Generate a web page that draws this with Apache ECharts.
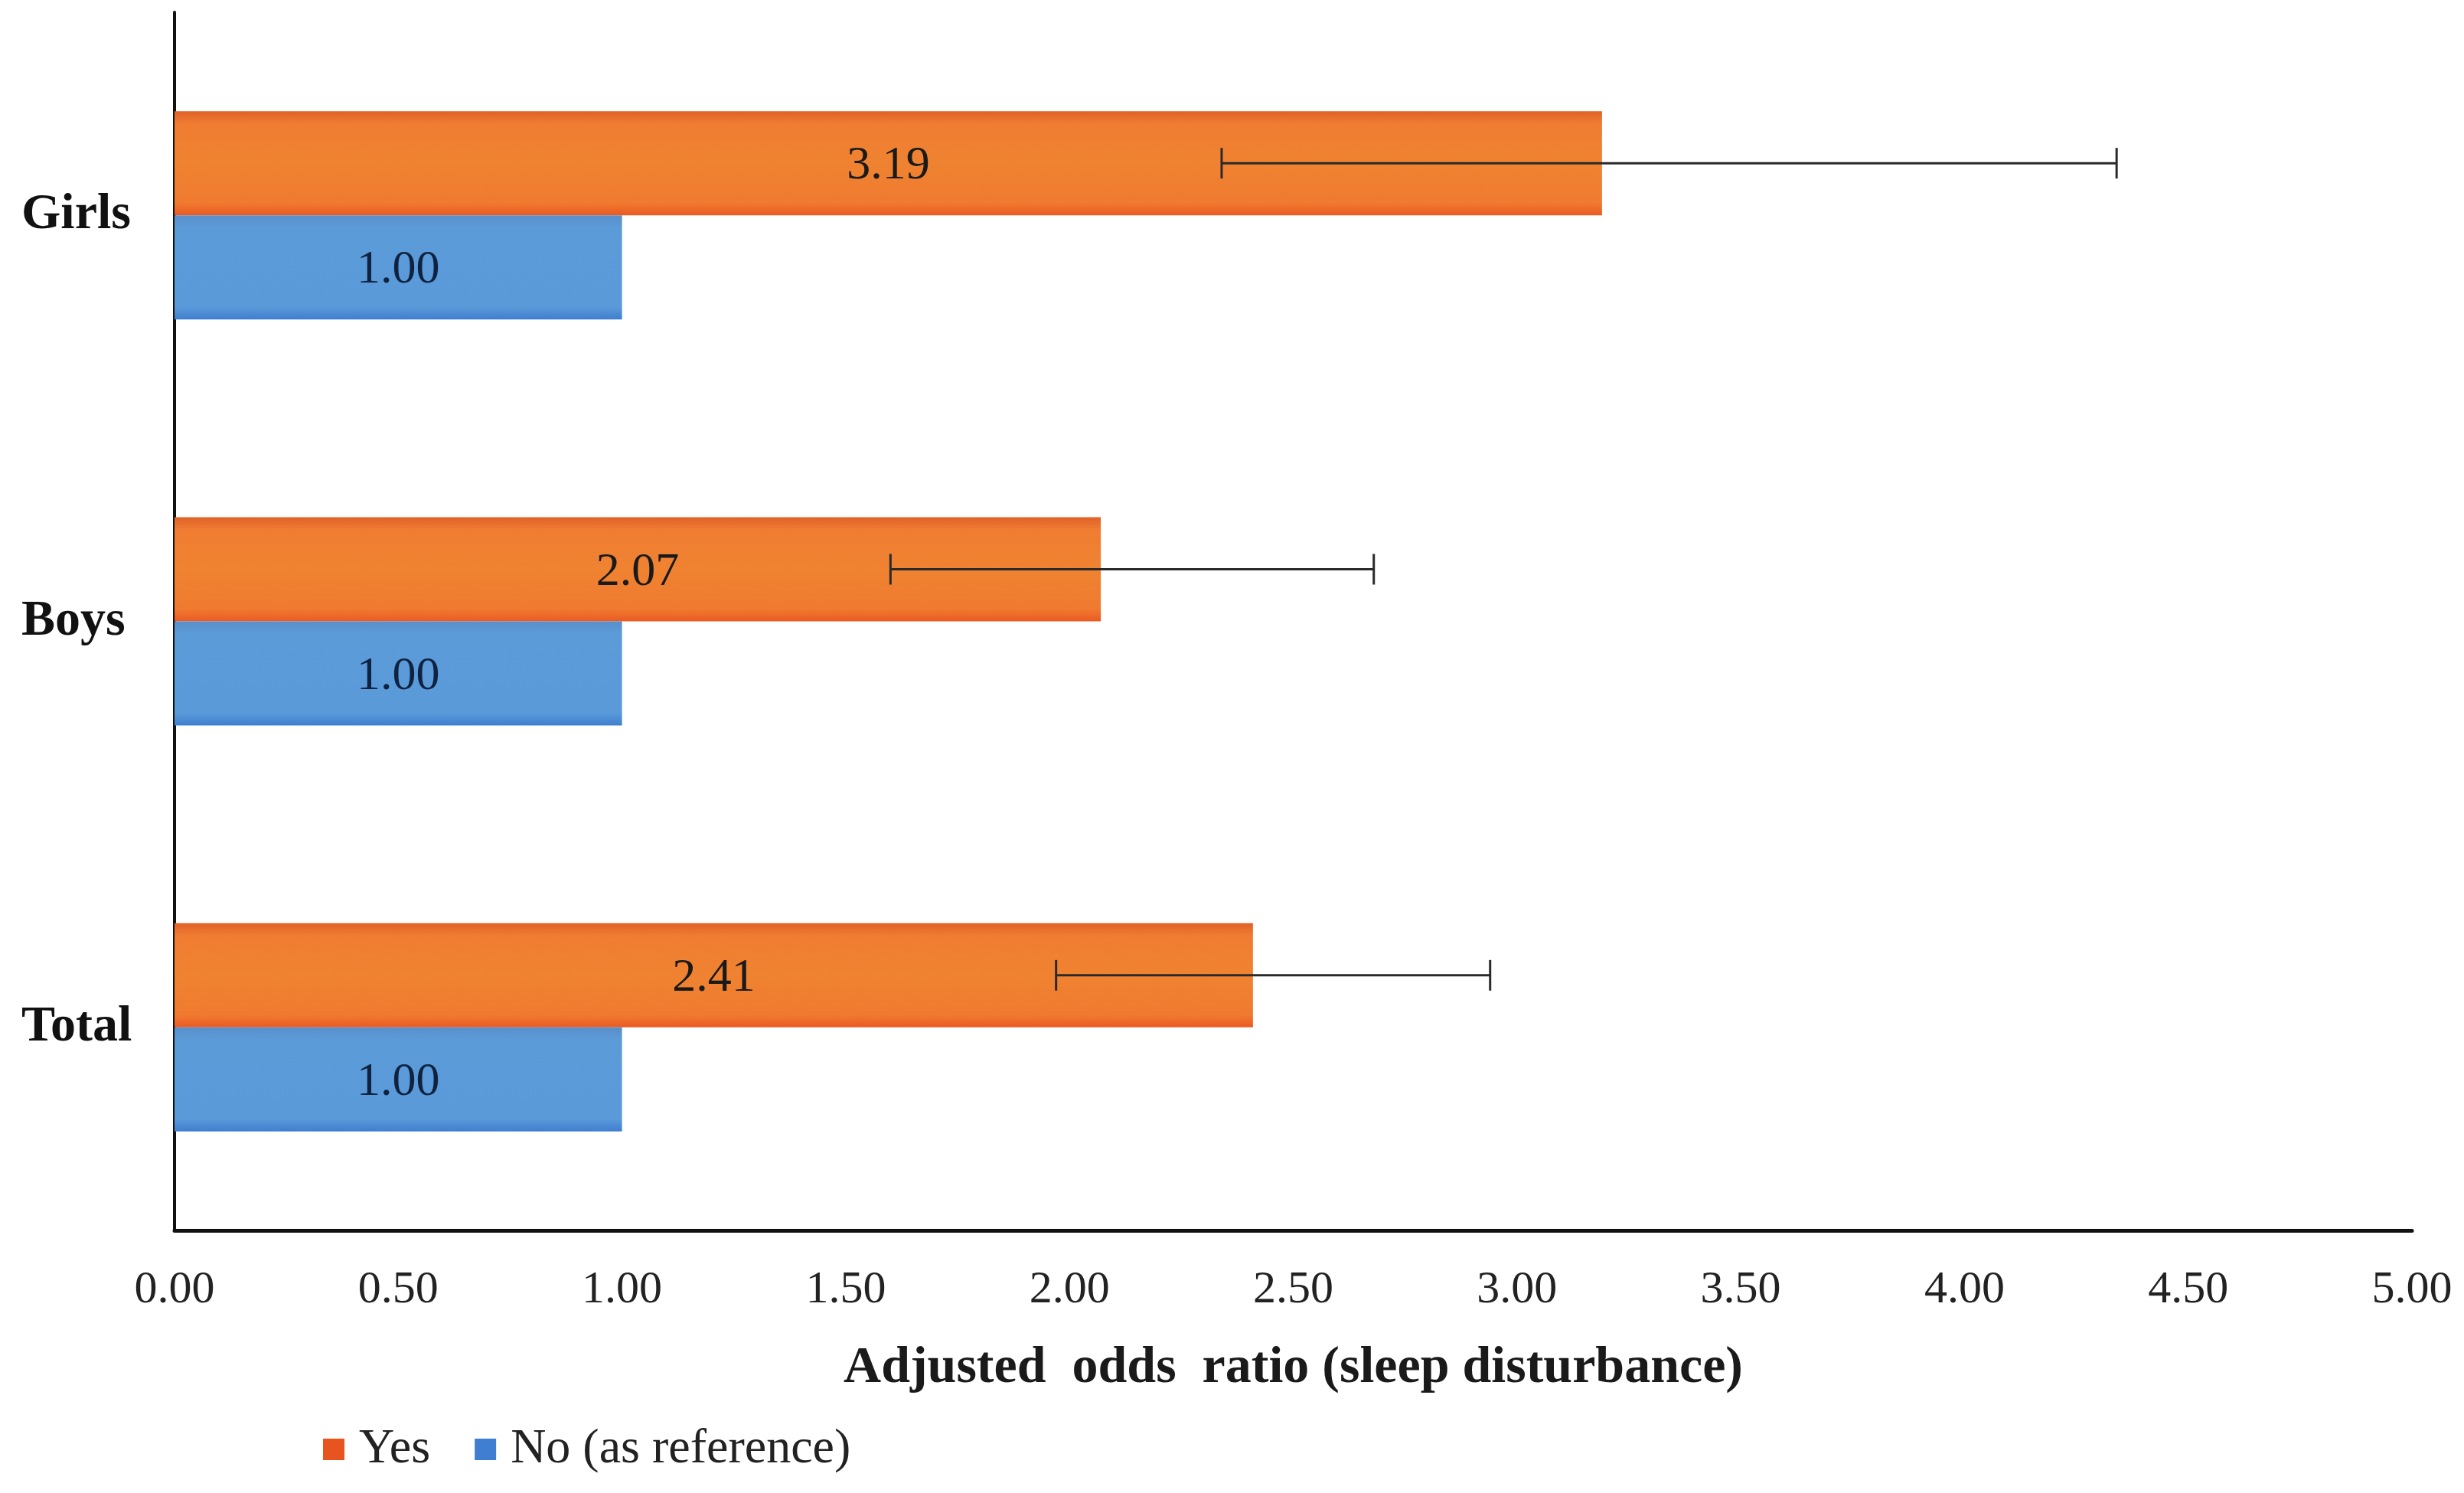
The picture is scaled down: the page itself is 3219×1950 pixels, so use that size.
<!DOCTYPE html>
<html>
<head>
<meta charset="utf-8">
<script src="https://cdn.jsdelivr.net/npm/echarts@6/dist/echarts.min.js"></script>
<style>
html,body{margin:0;padding:0;background:#fff;}
#chart{width:3219px;height:1950px;}
</style>
</head>
<body>
<div id="chart"></div>
<script>
const categories = ['Girls', 'Boys', 'Total'];
const yesValues = [3.19, 2.07, 2.41];
const noValues = [1.00, 1.00, 1.00];
const ciLow = [2.34, 1.60, 1.97];
const ciHigh = [4.34, 2.68, 2.94];
const seriesNames = ['Yes', 'No (as reference)'];
const axisTitle = 'Adjusted  odds  ratio (sleep disturbance)';

const FONT = '"Liberation Serif", "Times New Roman", serif';
const BAR_W = 136;

const chart = echarts.init(document.getElementById('chart'));

const orangeGrad = new echarts.graphic.LinearGradient(0, 0, 0, 1, [
  {offset: 0, color: '#DF6128'},
  {offset: 0.12, color: '#F07C32'},
  {offset: 0.5, color: '#EF8331'},
  {offset: 0.88, color: '#F07A30'},
  {offset: 1, color: '#EA5A22'}
]);
const blueGrad = new echarts.graphic.LinearGradient(0, 0, 0, 1, [
  {offset: 0, color: '#5A8FCB'},
  {offset: 0.12, color: '#5B9BD8'},
  {offset: 0.88, color: '#5A9AD9'},
  {offset: 1, color: '#3F7ED0'}
]);

const errData = categories.map((c, i) => [ciLow[i], ciHigh[i], i]);

chart.setOption({
  animation: false,
  backgroundColor: '#ffffff',
  grid: {left: 228, right: 68, top: 16, bottom: 343, containLabel: false},
  legend: {
    data: [
      {name: seriesNames[0], itemStyle: {color: '#E8541F'}},
      {name: seriesNames[1], itemStyle: {color: '#3F7ED0'}}
    ],
    left: 417, top: 1856,
    icon: 'rect', itemWidth: 28, itemHeight: 28, itemGap: 58,
    textStyle: {fontFamily: FONT, fontSize: 64, color: '#222', padding: [0, 0, 0, 14]}
  },
  xAxis: {
    type: 'value', min: 0, max: 5, interval: 0.5,
    name: axisTitle, nameLocation: 'middle', nameGap: 146,
    nameTextStyle: {fontFamily: FONT, fontSize: 68, fontWeight: 'bold', color: '#1a1a1a'},
    axisLine: {show: true, lineStyle: {color: '#111', width: 5}},
    axisTick: {show: false},
    splitLine: {show: false},
    axisLabel: {fontFamily: FONT, fontSize: 60, color: '#222', margin: 48,
      formatter: v => v.toFixed(2)}
  },
  yAxis: {
    type: 'category', data: categories, inverse: true,
    axisLine: {show: true, lineStyle: {color: '#111', width: 4}},
    axisTick: {show: false},
    axisLabel: {fontFamily: FONT, fontSize: 66, fontWeight: 'bold', color: '#111',
      align: 'left', margin: 200}
  },
  series: [
    {
      name: seriesNames[0], type: 'bar', data: yesValues, barWidth: BAR_W, barGap: '0%',
      itemStyle: {color: orangeGrad},
      label: {show: true, position: 'inside', fontFamily: FONT, fontSize: 62, color: '#1a1a1a',
        offset: [0, 4], formatter: p => p.value.toFixed(2)}
    },
    {
      name: seriesNames[1], type: 'bar', data: noValues, barWidth: BAR_W, barGap: '0%',
      itemStyle: {color: blueGrad},
      label: {show: true, position: 'inside', fontFamily: FONT, fontSize: 62, color: '#0f2240',
        offset: [0, 4], formatter: p => p.value.toFixed(2)}
    },
    {
      name: 'CI', type: 'custom', data: errData, z: 10,
      encode: {x: [0, 1], y: 2},
      renderItem: function (params, api) {
        const lo = api.coord([api.value(0), api.value(2)]);
        const hi = api.coord([api.value(1), api.value(2)]);
        const y = lo[1] - BAR_W / 2;
        const cap = 20;
        const st = {stroke: '#2a2a2a', lineWidth: 3};
        return {
          type: 'group',
          children: [
            {type: 'line', shape: {x1: lo[0], y1: y, x2: hi[0], y2: y}, style: st},
            {type: 'line', shape: {x1: lo[0], y1: y - cap, x2: lo[0], y2: y + cap}, style: st},
            {type: 'line', shape: {x1: hi[0], y1: y - cap, x2: hi[0], y2: y + cap}, style: st}
          ]
        };
      }
    }
  ]
});
</script>
</body>
</html>
